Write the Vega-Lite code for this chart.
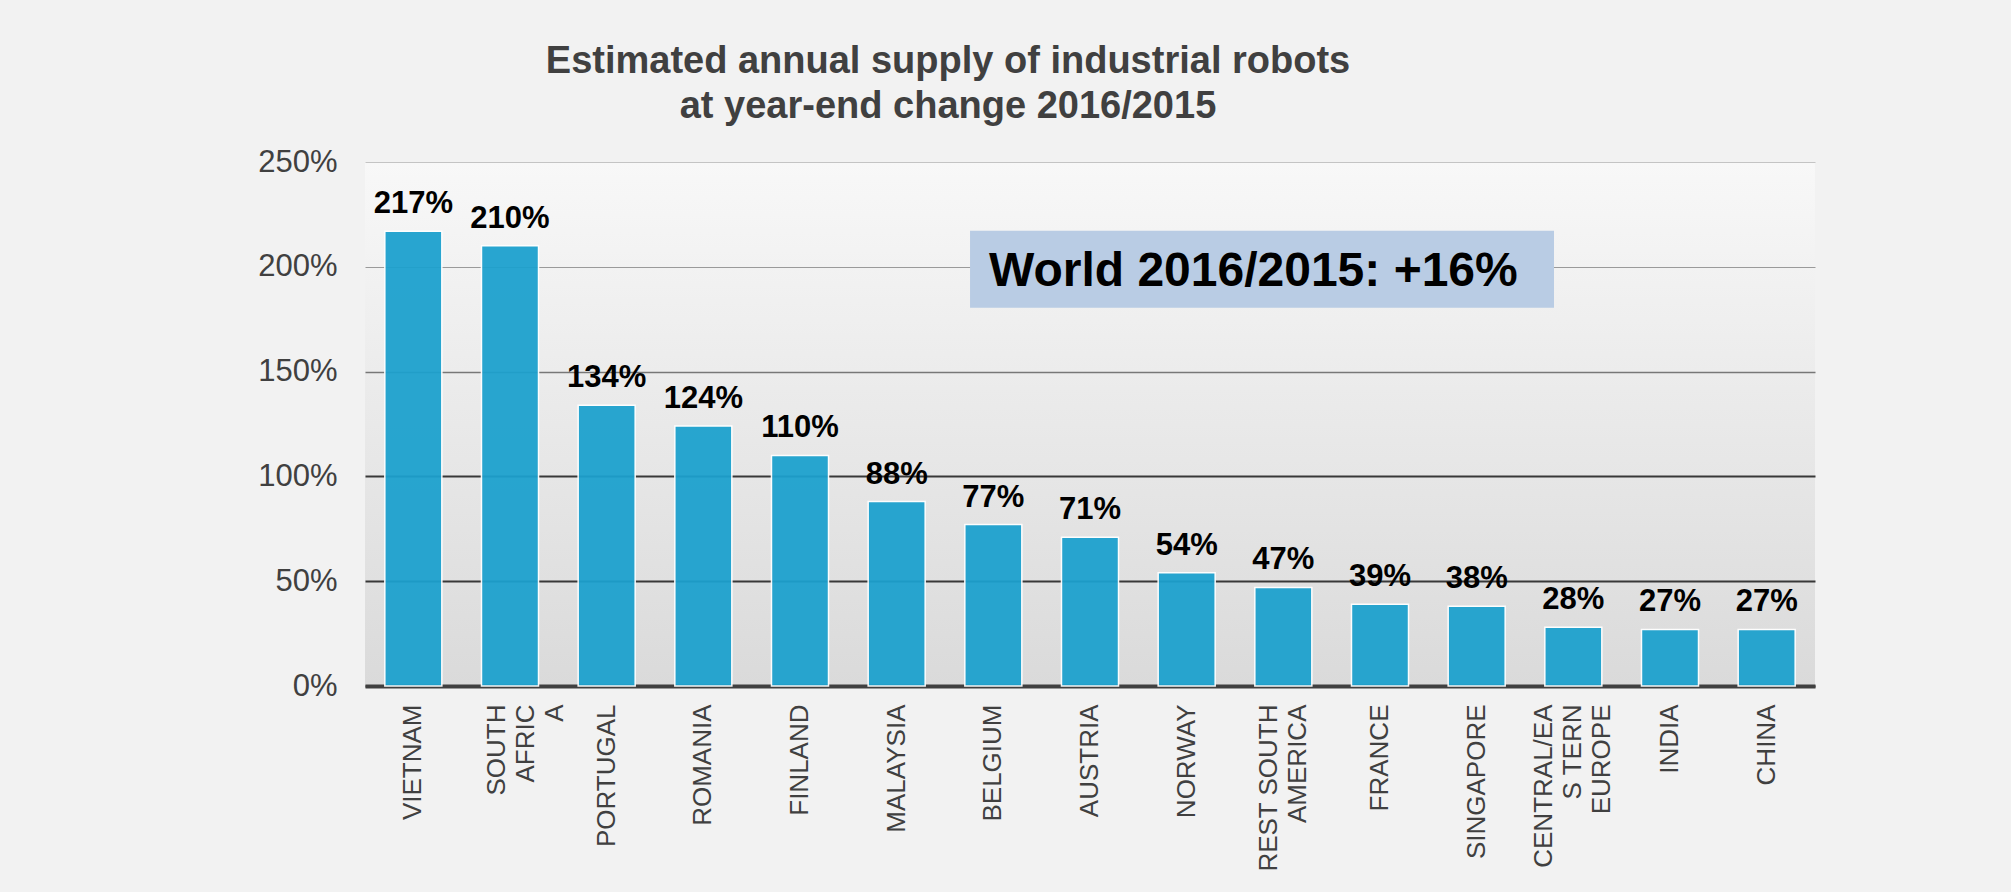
{
  "$schema": "https://vega.github.io/schema/vega-lite/v6.json",
  "width": 1450,
  "height": 524,
  "autosize": {"type": "none"},
  "padding": {"left": 365, "top": 162, "right": 196, "bottom": 206},
  "background": "#f2f2f2",
  "config": {
    "font": "Liberation Sans",
    "view": {
      "stroke": null,
      "fill": {"gradient": "linear", "x1": 0, "y1": 0, "x2": 0, "y2": 1,
        "stops": [{"offset": 0, "color": "#f8f8f8"}, {"offset": 1, "color": "#dadada"}]}
    }
  },
  "title": {
    "text": ["Estimated annual supply of industrial robots", "at year-end change 2016/2015"],
    "fontSize": 38,
    "fontWeight": "bold",
    "color": "#404040",
    "lineHeight": 45,
    "anchor": "middle",
    "frame": "group",
    "baseline": "bottom",
    "dx": -142,
    "offset": -18
  },
  "layer": [
    {
      "data": {"values": [
        {"label": "VIETNAM", "change": 2.17},
        {"label": "SOUTH\nAFRIC\nA", "change": 2.10},
        {"label": "PORTUGAL", "change": 1.34},
        {"label": "ROMANIA", "change": 1.24},
        {"label": "FINLAND", "change": 1.10},
        {"label": "MALAYSIA", "change": 0.88},
        {"label": "BELGIUM", "change": 0.77},
        {"label": "AUSTRIA", "change": 0.71},
        {"label": "NORWAY", "change": 0.54},
        {"label": "REST SOUTH\nAMERICA", "change": 0.47},
        {"label": "FRANCE", "change": 0.39},
        {"label": "SINGAPORE", "change": 0.38},
        {"label": "CENTRAL/EA\nS TERN\nEUROPE", "change": 0.28},
        {"label": "INDIA", "change": 0.27},
        {"label": "CHINA", "change": 0.27}
      ]},
      "encoding": {
        "x": {
          "field": "label", "type": "nominal", "sort": null,
          "scale": {"paddingInner": 0.41, "paddingOuter": 0.205},
          "axis": {
            "title": null, "labelAngle": -90, "labelAlign": "right", "labelBaseline": "middle",
            "labelFontSize": 26, "labelColor": "#404040", "labelPadding": 18, "labelLineHeight": 29,
            "labelExpr": "split(datum.value, '\\n')", "labelLimit": 0, "labelOverlap": false,
            "labelOffset": {"condition": [
              {"test": "datum.value == 'SOUTH\\nAFRIC\\nA'", "value": -13},
              {"test": "datum.value == 'CENTRAL/EA\\nS TERN\\nEUROPE'", "value": -29},
              {"test": "datum.value == 'REST SOUTH\\nAMERICA'", "value": -14.5}
            ], "value": 0},
            "ticks": false, "domainColor": "#404040", "domainWidth": 4, "grid": false
          }
        },
        "y": {
          "field": "change", "type": "quantitative",
          "scale": {"domain": [0, 2.5], "nice": false},
          "axis": {
            "title": null, "format": ".0%", "values": [0, 0.5, 1, 1.5, 2, 2.5],
            "labelFontSize": 31, "labelColor": "#404040", "labelPadding": 28,
            "ticks": false, "domain": false,
            "gridColor": {"condition": [
              {"test": "datum.value >= 2.4", "value": "#c4c4c4"},
              {"test": "datum.value >= 1.9", "value": "#9a9a9a"},
              {"test": "datum.value >= 1.4", "value": "#777777"}
            ], "value": "#383838"},
            "gridWidth": {"condition": [
              {"test": "datum.value >= 1.9", "value": 1.2},
              {"test": "datum.value >= 1.4", "value": 1.6}
            ], "value": 2.2}
          }
        }
      },
      "layer": [
        {"mark": {"type": "bar", "color": "#1ca1ce", "opacity": 0.94, "stroke": "white", "strokeWidth": 1.5}},
        {"mark": {"type": "text", "fontWeight": "bold", "fontSize": 31, "dy": -18, "baseline": "alphabetic", "color": "black"},
         "encoding": {"text": {"field": "change", "format": ".0%"}}}
      ]
    },
    {
      "data": {"values": [{"note": "World 2016/2015: +16%"}]},
      "layer": [
        {
          "mark": {"type": "rect", "color": "#b9cce4", "opacity": 1},
          "encoding": {
            "x": {"datum": 6.259, "type": "quantitative", "scale": {"domain": [0, 15]}, "axis": null},
            "x2": {"datum": 12.3},
            "y": {"datum": 2.172, "type": "quantitative", "scale": {"domain": [0, 2.5], "nice": false}},
            "y2": {"datum": 1.805}
          }
        },
        {
          "mark": {"type": "text", "fontWeight": "bold", "fontSize": 48, "align": "left", "baseline": "alphabetic", "color": "black"},
          "encoding": {
            "x": {"datum": 6.455, "type": "quantitative", "scale": {"domain": [0, 15]}, "axis": null},
            "y": {"datum": 1.908, "type": "quantitative", "scale": {"domain": [0, 2.5], "nice": false}},
            "text": {"field": "note"}
          }
        }
      ]
    }
  ],
  "resolve": {"scale": {"x": "independent"}}
}
